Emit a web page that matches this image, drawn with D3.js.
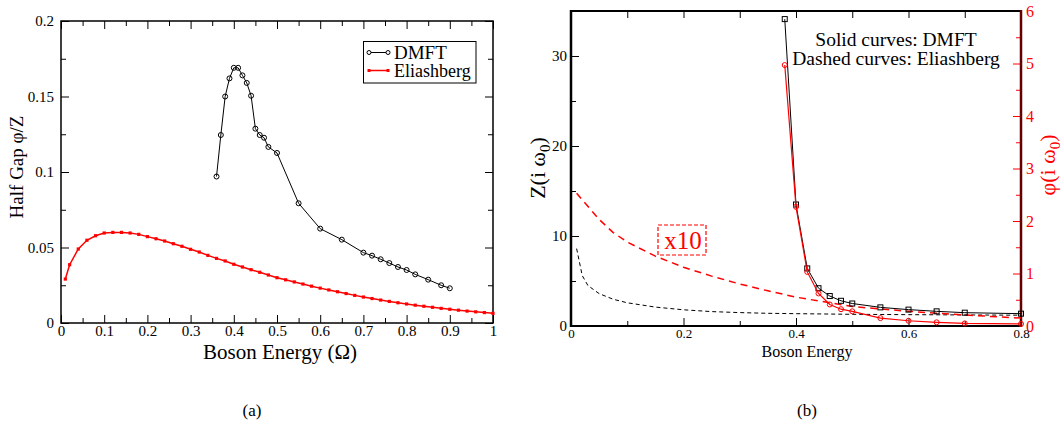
<!DOCTYPE html>
<html>
<head>
<meta charset="utf-8">
<script src="https://d3js.org/d3.v7.min.js"></script>
<style>
  body { margin: 0; background: #fff; }
  svg { font-family: "Liberation Serif", "DejaVu Serif", serif; }
</style>
</head>
<body>
<svg id="chart" width="1063" height="426"></svg>
<script>
// ---- panel (a): half gap phi/Z vs boson energy
let dmftX = [0.36, 0.37, 0.38, 0.39, 0.40, 0.41, 0.42, 0.43, 0.44, 0.45, 0.46, 0.47, 0.48, 0.50,
  0.55, 0.60, 0.65, 0.70, 0.72, 0.74, 0.76, 0.78, 0.80, 0.82, 0.85, 0.88, 0.90];
let dmftGap = [0.097, 0.1245, 0.150, 0.162, 0.169, 0.169, 0.164, 0.159, 0.1505, 0.1287, 0.1245, 0.1227, 0.1166, 0.1126,
  0.0793, 0.0625, 0.0552, 0.0466, 0.0446, 0.0422, 0.0397, 0.0371, 0.0351, 0.0322, 0.0287, 0.0250, 0.0230];

let eliX = [0.01, 0.02, 0.04, 0.06, 0.08, 0.10, 0.12, 0.14, 0.16, 0.18, 0.20, 0.22, 0.24, 0.26, 0.28, 0.30,
  0.32, 0.34, 0.36, 0.38, 0.40, 0.42, 0.44, 0.46, 0.48, 0.50, 0.52, 0.54, 0.56, 0.58, 0.60, 0.62, 0.64,
  0.66, 0.68, 0.70, 0.72, 0.74, 0.76, 0.78, 0.80, 0.82, 0.84, 0.86, 0.88, 0.90, 0.92, 0.94, 0.96, 0.98, 1.00];
let eliGap = [0.0291, 0.0386, 0.0490, 0.0548, 0.0578, 0.0596, 0.0600, 0.0600, 0.0596, 0.0587, 0.0572, 0.0558,
  0.0543, 0.0525, 0.0508, 0.0488, 0.0470, 0.0448, 0.0428, 0.0411, 0.0389, 0.0371, 0.0353, 0.0336, 0.0318,
  0.0300, 0.0286, 0.0272, 0.0258, 0.0244, 0.0231, 0.0219, 0.0207, 0.0195, 0.0183, 0.0172, 0.0162, 0.0152,
  0.0143, 0.0134, 0.0126, 0.0118, 0.0111, 0.0104, 0.0097, 0.0091, 0.0085, 0.0079, 0.0074, 0.0069, 0.0064];

let aXTicks = [0, 0.1, 0.2, 0.3, 0.4, 0.5, 0.6, 0.7, 0.8, 0.9, 1];
let aYTicks = [0, 0.05, 0.1, 0.15, 0.2];

// ---- panel (b): Z(i w0) and phi(i w0)
let zX = [0.38, 0.40, 0.42, 0.44, 0.46, 0.48, 0.50, 0.55, 0.60, 0.65, 0.70, 0.80];
let dmftZ = [34.1, 13.5, 6.4, 4.2, 3.33, 2.8, 2.5, 2.07, 1.82, 1.63, 1.48, 1.37];
let dmftPhi = [4.97, 2.27, 1.03, 0.62, 0.41, 0.32, 0.28, 0.15, 0.10, 0.07, 0.05, 0.04];

let eliBX = [0.01, 0.02, 0.03, 0.05, 0.075, 0.10, 0.15, 0.20, 0.25, 0.30, 0.35, 0.40, 0.50, 0.60, 0.70, 0.80];
let eliZ = [8.6, 5.6, 4.5, 3.6, 2.97, 2.58, 2.1, 1.8, 1.6, 1.49, 1.41, 1.37, 1.3, 1.26, 1.23, 1.2];
let eliPhiX10 = [2.53, 2.4, 2.28, 2.03, 1.78, 1.6, 1.33, 1.12, 0.95, 0.8, 0.67, 0.55, 0.37, 0.28, 0.21, 0.15];

let bXTicks = [0, 0.2, 0.4, 0.6, 0.8];
let bZTicks = [0, 10, 20, 30];
let bPhiTicks = [0, 1, 2, 3, 4, 5, 6];

let fmt = (d) => String(+d.toFixed(2));
let svg = d3.select('#chart');

// inward ticks on one side: minor ones, then major ones with optional labels
function ticks(g, axisFn, scale, major, minor, majorLen, minorLen, pad, size, color) {
  color = color || '#000';
  let ga = g.append('g').call(axisFn(scale).tickValues(minor).tickSize(-minorLen).tickFormat(''));
  ga.attr('font-family', null).select('.domain').remove();
  ga.selectAll('line').attr('stroke', color);
  let gb = g.append('g').call(axisFn(scale).tickValues(major).tickSize(-majorLen).tickPadding(pad)
    .tickFormat(size ? fmt : ''));
  gb.attr('font-family', null).attr('font-size', size || 10).select('.domain').remove();
  gb.selectAll('line').attr('stroke', color);
  gb.selectAll('text').attr('fill', color);
  return gb;
}

// ================= panel (a)
let xa = d3.scaleLinear().domain([0, 1]).range([61, 493]);
let ya = d3.scaleLinear().domain([0, 0.2]).range([323, 21]);
let pa = svg.append('g');

let aXMinor = d3.range(1, 20, 2).map((i) => i * 0.05);
let aYMinor = [0.025, 0.075, 0.125, 0.175];

ticks(pa.append('g').attr('transform', 'translate(0,323)'), d3.axisBottom, xa, aXTicks, aXMinor, 8, 5, 2, 15);
ticks(pa.append('g').attr('transform', 'translate(0,21)'), d3.axisTop, xa, aXTicks, aXMinor, 8, 5, 2, 0);
ticks(pa.append('g').attr('transform', 'translate(61,0)'), d3.axisLeft, ya, aYTicks, aYMinor, 8, 5, 7, 15);
ticks(pa.append('g').attr('transform', 'translate(493,0)'), d3.axisRight, ya, aYTicks, aYMinor, 8, 5, 2, 0);

pa.append('rect')
  .attr('x', 61).attr('y', 21).attr('width', 432).attr('height', 302)
  .attr('fill', 'none').attr('stroke', '#000').attr('stroke-width', 1.5);

let lineA = d3.line().x((d) => xa(d[0])).y((d) => ya(d[1]));
let eliPts = d3.zip(eliX, eliGap);
let dmftPts = d3.zip(dmftX, dmftGap);

pa.append('path').datum(eliPts).attr('d', lineA)
  .attr('fill', 'none').attr('stroke', 'red').attr('stroke-width', 1.5);
pa.selectAll('rect.eli').data(eliPts).join('rect').attr('class', 'eli')
  .attr('x', (d) => xa(d[0]) - 1.6).attr('y', (d) => ya(d[1]) - 1.6)
  .attr('width', 3.2).attr('height', 3.2).attr('fill', 'red');

pa.append('path').datum(dmftPts).attr('d', lineA)
  .attr('fill', 'none').attr('stroke', '#000').attr('stroke-width', 1);
pa.selectAll('circle.dmft').data(dmftPts).join('circle').attr('class', 'dmft')
  .attr('cx', (d) => xa(d[0])).attr('cy', (d) => ya(d[1])).attr('r', 2.5)
  .attr('fill', 'none').attr('stroke', '#000').attr('stroke-width', 1);

// legend
let lg = pa.append('g');
lg.append('rect').attr('x', 363.5).attr('y', 41.5).attr('width', 112.5).attr('height', 41.5)
  .attr('fill', '#fff').attr('stroke', '#000').attr('stroke-width', 1);
lg.append('line').attr('x1', 369).attr('x2', 388).attr('y1', 52.5).attr('y2', 52.5).attr('stroke', '#000');
lg.selectAll('circle').data([369, 388]).join('circle')
  .attr('cx', (d) => d).attr('cy', 52.5).attr('r', 2)
  .attr('fill', '#fff').attr('stroke', '#000');
lg.append('line').attr('x1', 369).attr('x2', 388).attr('y1', 70.5).attr('y2', 70.5)
  .attr('stroke', 'red').attr('stroke-width', 1.5);
lg.selectAll('rect.m').data([369, 388]).join('rect').attr('class', 'm')
  .attr('x', (d) => d - 1.5).attr('y', 69).attr('width', 3).attr('height', 3).attr('fill', 'red');
lg.append('text').attr('x', 394).attr('y', 58.5).attr('font-size', 19).text('DMFT');
lg.append('text').attr('x', 394).attr('y', 76.5).attr('font-size', 18).text('Eliashberg');

pa.append('text').attr('transform', 'translate(23,167) rotate(-90)')
  .attr('text-anchor', 'middle').attr('font-size', 19).text('Half Gap \u03c6/Z');
pa.append('text').attr('x', 280).attr('y', 359)
  .attr('text-anchor', 'middle').attr('font-size', 21).text('Boson Energy (\u03a9)');
svg.append('text').attr('x', 252).attr('y', 416)
  .attr('text-anchor', 'middle').attr('font-size', 17).text('(a)');

// ================= panel (b)
let xb = d3.scaleLinear().domain([0, 0.8]).range([571, 1021]);
let yz = d3.scaleLinear().domain([0, 35]).range([326, 11]);
let yp = d3.scaleLinear().domain([0, 6]).range([326, 11]);
let pb = svg.append('g');

ticks(pb.append('g').attr('transform', 'translate(0,326)'), d3.axisBottom, xb, bXTicks, [0.1, 0.3, 0.5, 0.7], 8, 5, 3, 13);
ticks(pb.append('g').attr('transform', 'translate(0,11)'), d3.axisTop, xb, [0.1, 0.2, 0.3, 0.4, 0.5, 0.6, 0.7], [], 7, 0, 2, 0);
ticks(pb.append('g').attr('transform', 'translate(571,0)'), d3.axisLeft, yz, bZTicks, [5, 15, 25], 8, 5, 4, 15);
ticks(pb.append('g').attr('transform', 'translate(1021,0)'), d3.axisRight, yp, bPhiTicks, [0.5, 1.5, 2.5, 3.5, 4.5, 5.5], 8, 5, 5, 16, 'red');

pb.append('path').attr('d', 'M571,11H1021').attr('stroke', '#000').attr('stroke-width', 2);
pb.append('path').attr('d', 'M571,326H1021').attr('stroke', '#000').attr('stroke-width', 2);
pb.append('path').attr('d', 'M571,10V327').attr('stroke', '#000').attr('stroke-width', 2.5);
pb.append('path').attr('d', 'M1021,10V327').attr('stroke', '#600').attr('stroke-width', 2.5);

let lineZ = d3.line().x((d) => xb(d[0])).y((d) => yz(d[1]));
let lineP = d3.line().x((d) => xb(d[0])).y((d) => yp(d[1]));

pb.append('path').datum(d3.zip(eliBX, eliZ)).attr('d', lineZ)
  .attr('fill', 'none').attr('stroke', '#000').attr('stroke-width', 1).attr('stroke-dasharray', '4,3');
pb.append('path').datum(d3.zip(eliBX, eliPhiX10)).attr('d', lineP)
  .attr('fill', 'none').attr('stroke', 'red').attr('stroke-width', 1.5).attr('stroke-dasharray', '7,5');

let zPts = d3.zip(zX, dmftZ);
let pPts = d3.zip(zX, dmftPhi);
pb.append('path').datum(zPts).attr('d', lineZ)
  .attr('fill', 'none').attr('stroke', '#000').attr('stroke-width', 1);
pb.selectAll('rect.z').data(zPts).join('rect').attr('class', 'z')
  .attr('x', (d) => xb(d[0]) - 2.5).attr('y', (d) => yz(d[1]) - 2.5)
  .attr('width', 5).attr('height', 5).attr('fill', 'none').attr('stroke', '#000');
pb.append('path').datum(pPts).attr('d', lineP)
  .attr('fill', 'none').attr('stroke', 'red').attr('stroke-width', 1.2);
pb.selectAll('circle.p').data(pPts).join('circle').attr('class', 'p')
  .attr('cx', (d) => xb(d[0])).attr('cy', (d) => yp(d[1])).attr('r', 2.5)
  .attr('fill', 'none').attr('stroke', 'red');

// "x10" box
pb.append('rect').attr('x', 658).attr('y', 225).attr('width', 48).attr('height', 30)
  .attr('fill', 'none').attr('stroke', 'red').attr('stroke-width', 1.2).attr('stroke-dasharray', '4,2');
pb.append('text').attr('x', 683).attr('y', 249).attr('text-anchor', 'middle')
  .attr('font-size', 25).attr('fill', 'red').text('x10');

pb.append('text').attr('x', 896).attr('y', 46).attr('text-anchor', 'middle')
  .attr('font-size', 19.5).text('Solid curves: DMFT');
pb.append('text').attr('x', 896).attr('y', 65).attr('text-anchor', 'middle')
  .attr('font-size', 19.5).text('Dashed curves: Eliashberg');

let zl = pb.append('text').attr('transform', 'translate(545,168) rotate(-90)')
  .attr('text-anchor', 'middle').attr('font-size', 22);
zl.append('tspan').text('Z(i \u03c9');
zl.append('tspan').attr('dy', 5).attr('font-size', 15).text('0');
zl.append('tspan').attr('dy', -5).text(')');

let pl = pb.append('text').attr('transform', 'translate(1055,165) rotate(-90)')
  .attr('text-anchor', 'middle').attr('font-size', 22).attr('fill', 'red');
pl.append('tspan').text('\u03c6(i \u03c9');
pl.append('tspan').attr('dy', 5).attr('font-size', 15).text('0');
pl.append('tspan').attr('dy', -5).text(')');

pb.append('text').attr('x', 807).attr('y', 357).attr('text-anchor', 'middle')
  .attr('font-size', 16).text('Boson Energy');
svg.append('text').attr('x', 807).attr('y', 416)
  .attr('text-anchor', 'middle').attr('font-size', 17).text('(b)');
</script>
</body>
</html>
